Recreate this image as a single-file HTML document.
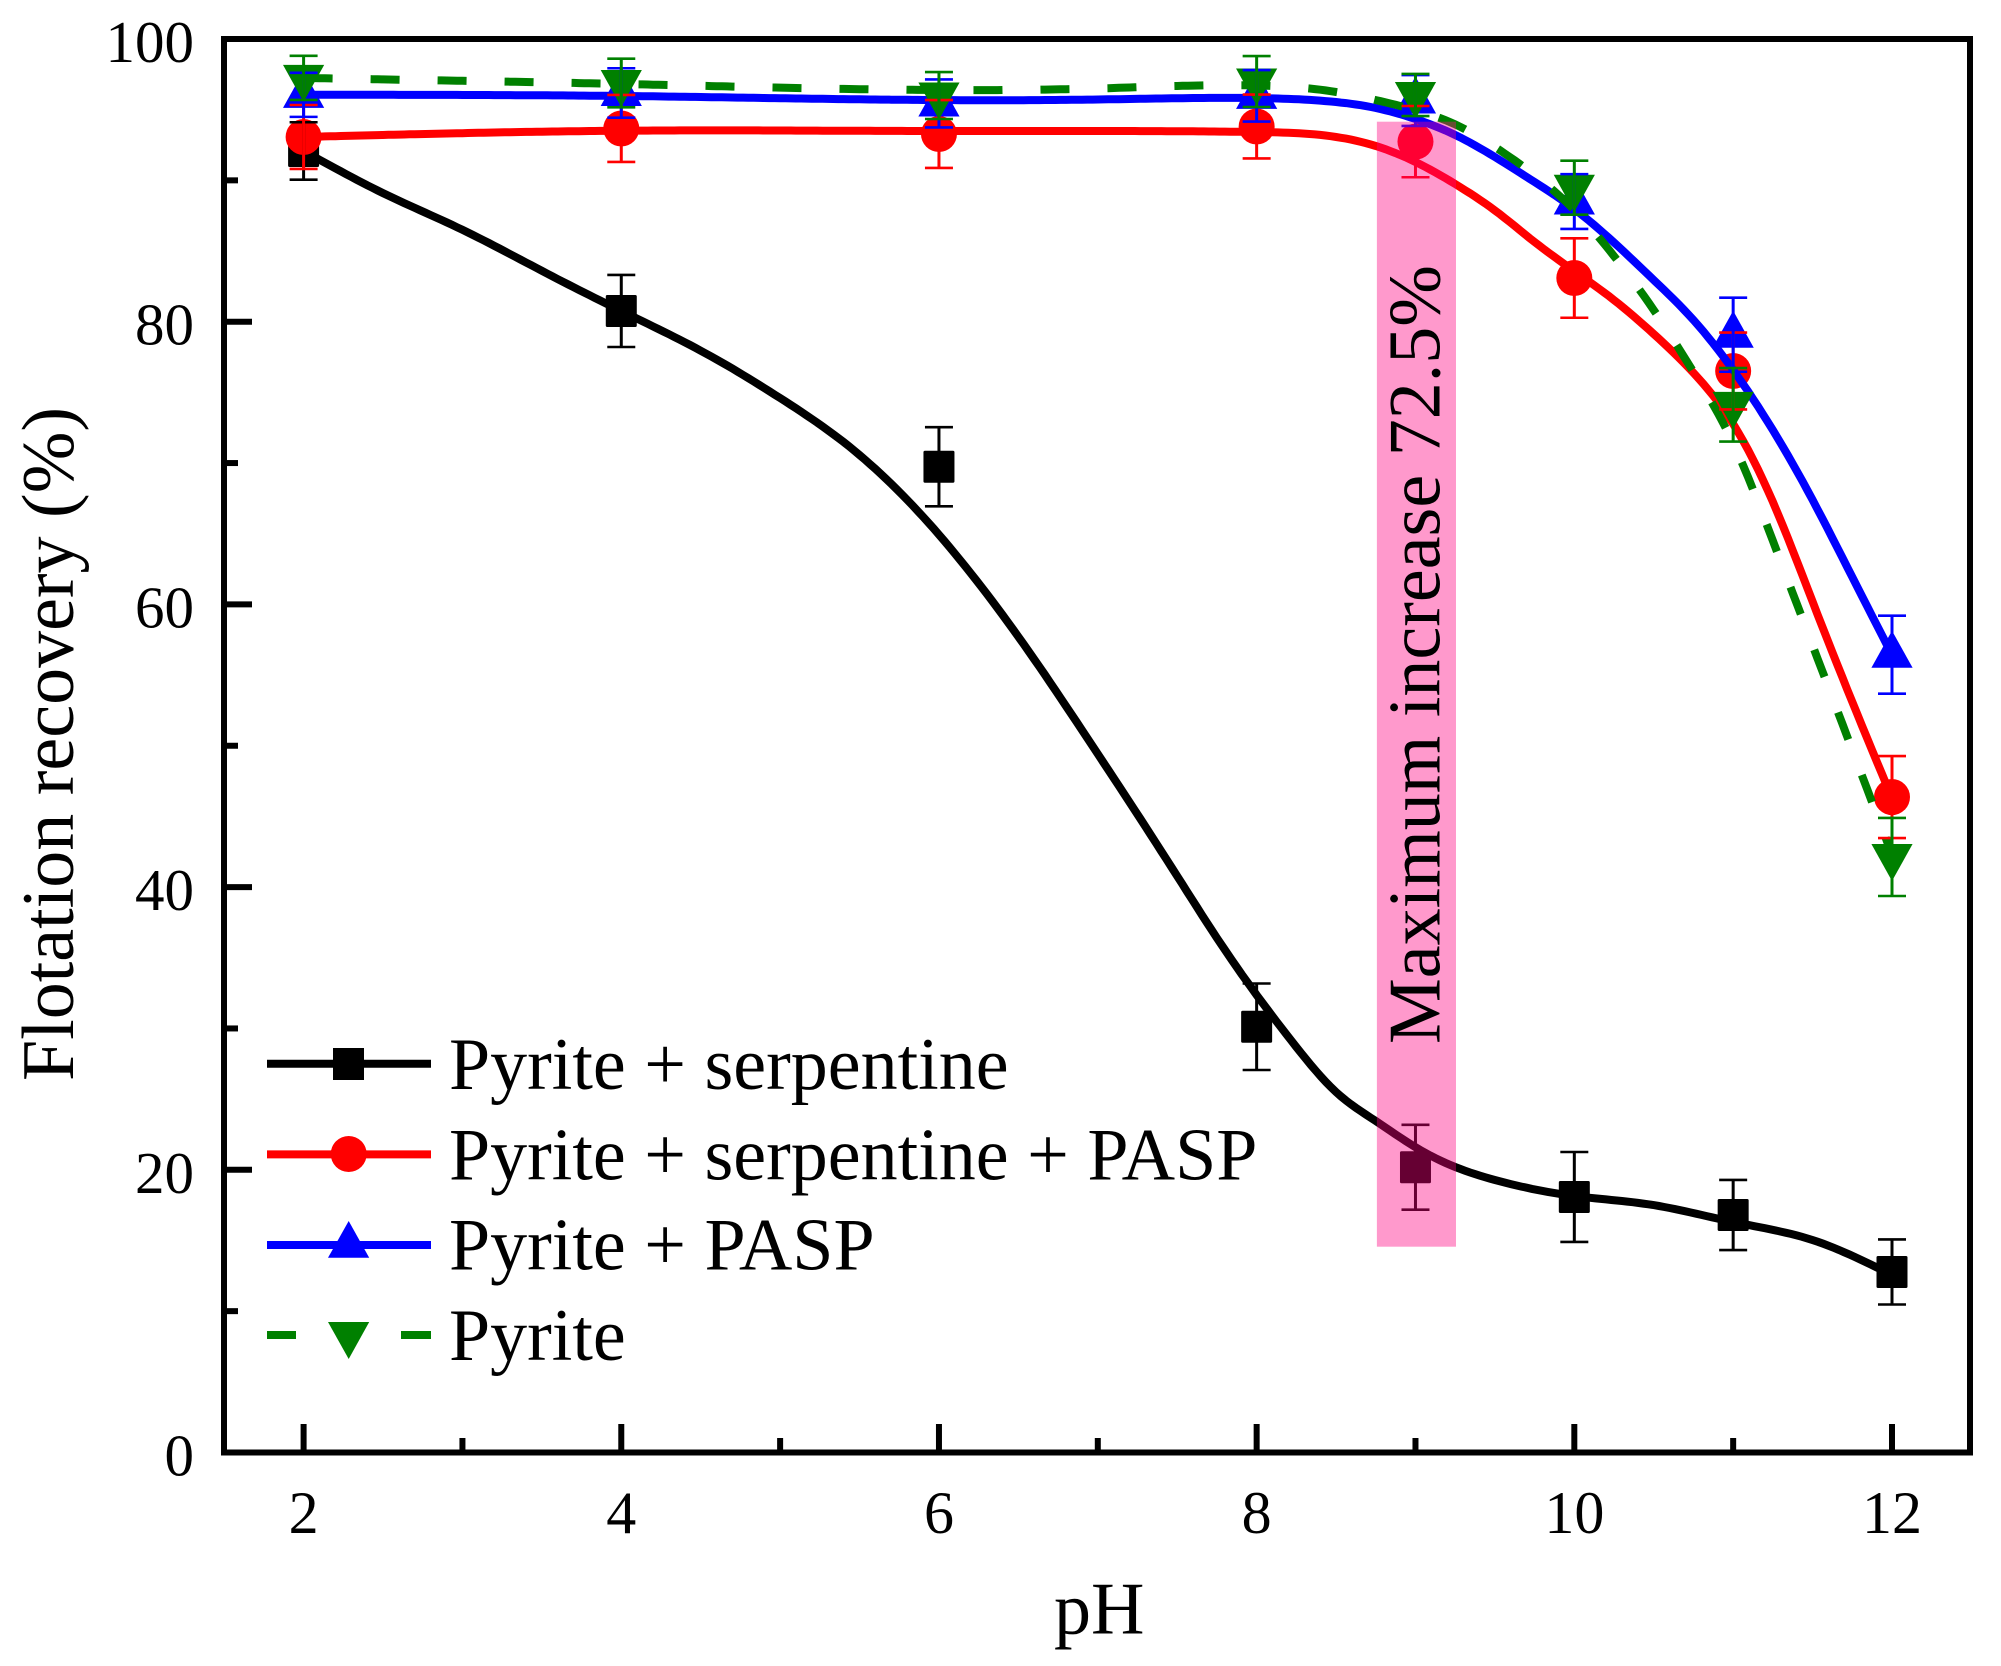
<!DOCTYPE html>
<html lang="en">
<head>
<meta charset="utf-8">
<title>Flotation recovery vs pH</title>
<style>
html,body{margin:0;padding:0;background:#fff;}
svg{display:block;}
text{font-family:"Liberation Serif",serif;fill:#000;}
</style>
</head>
<body>
<svg id="chart" xmlns="http://www.w3.org/2000/svg" width="2001" height="1666" viewBox="0 0 2001 1666">
  <rect x="0" y="0" width="2001" height="1666" fill="#fff"/>
  <g id="axes"></g>
  <g id="series"></g>
  <g id="errors"></g>
  <rect id="highlight" fill="#FF0080" fill-opacity="0.4"></rect>
  <text font-size="74" transform="translate(1439.5,1044) rotate(-90)">Maximum increase 72.5%</text>
  <text font-size="74" transform="translate(73,1081) rotate(-90)">Flotation recovery (%)</text>
  <text font-size="74" x="1054" y="1633.5">pH</text>
  <g>
    <g>
      <line x1="267" x2="431" y1="1063.7" y2="1063.7" stroke="#000" stroke-width="8"/>
      <rect x="333" y="1048" width="31" height="32" fill="#000"/>
      <text font-size="74" x="449" y="1089">Pyrite + serpentine</text>
    </g>
    <g>
      <line x1="267" x2="431" y1="1154.4" y2="1154.4" stroke="#f00" stroke-width="8"/>
      <circle cx="348.7" cy="1154" r="18" fill="#f00"/>
      <text font-size="74" x="449" y="1179.5">Pyrite + serpentine + PASP</text>
    </g>
    <g>
      <line x1="267" x2="431" y1="1245" y2="1245" stroke="#00f" stroke-width="8"/>
      <polygon points="348.7,1221 369.2,1257.7 328,1257.7" fill="#00f"/>
      <text font-size="74" x="449" y="1269.5">Pyrite + PASP</text>
    </g>
    <g>
      <line x1="267" x2="296" y1="1335" y2="1335" stroke="#008000" stroke-width="8"/>
      <line x1="401" x2="431" y1="1335" y2="1335" stroke="#008000" stroke-width="8"/>
      <polygon points="328,1322 369.2,1322 348.7,1359" fill="#008000"/>
      <text font-size="74" x="449" y="1360">Pyrite</text>
    </g>
  </g>
</svg>
<script>
// Point data (pH, recovery %, error)
const phValues = [2, 4, 6, 8, 9, 10, 11, 12];
const serpentineValues = [92.08, 80.76, 69.74, 30.12, 20.18, 18.08, 16.8, 12.77];
const serpentineErrors = [2.03, 2.55, 2.8, 3.06, 3.0, 3.18, 2.48, 2.3];
const serpentinePaspValues = [93.07, 93.67, 93.28, 93.81, 92.74, 83.09, 76.51, 46.37];
const serpentinePaspErrors = [2.26, 2.37, 2.4, 2.26, 2.52, 2.81, 2.72, 2.9];
const paspValues = [96.05, 96.18, 95.44, 95.98, 95.65, 88.5, 79.08, 56.44];
const paspErrors = [1.56, 1.75, 1.7, 1.82, 1.8, 1.94, 2.62, 2.76];
const pyriteValues = [97.25, 96.89, 96.0, 96.99, 96.04, 89.48, 74.12, 42.13];
const pyriteErrors = [1.56, 1.72, 1.66, 1.8, 1.49, 1.91, 2.6, 2.76];

// Fitted curves: knots
const serpentineCurveX = [2, 2.5, 3, 3.5, 4, 4.5, 5, 5.5, 6, 6.5, 7, 7.5, 7.75, 8, 8.25, 8.5, 8.75, 9, 9.25, 9.5, 10, 10.5, 11, 11.5, 12];
const serpentineCurveY = [92.08, 89.1, 86.5, 83.6, 80.76, 77.95, 74.6, 70.57, 64.93, 57.71, 49.42, 40.78, 36.4, 32.37, 28.69, 25.5, 23.45, 21.6, 20.2, 19.28, 18.15, 17.5, 16.31, 15.03, 12.56];
const serpentinePaspCurveX = [2, 4, 6, 8, 8.5, 8.75, 9, 9.25, 9.5, 9.75, 10, 10.25, 10.5, 10.75, 11, 11.25, 11.5, 11.75, 12];
const serpentinePaspCurveY = [93.07, 93.51, 93.49, 93.42, 93.07, 92.43, 91.3, 89.74, 87.87, 85.64, 83.58, 81.53, 79.13, 76.38, 72.76, 67.25, 60.2, 53.1, 46.3];
const paspCurveX = [2, 4, 6, 7, 8, 8.5, 8.75, 9, 9.25, 9.5, 9.75, 10, 10.25, 10.5, 10.75, 11, 11.25, 11.5, 11.75, 12];
const paspCurveY = [96.05, 95.97, 95.68, 95.72, 95.82, 95.54, 95.12, 94.34, 93.21, 91.65, 89.88, 87.97, 85.6, 82.95, 80.12, 76.58, 72.33, 67.39, 61.93, 56.44];
const pyriteCurveX = [2, 3, 4, 6, 7, 8, 8.5, 8.75, 9, 9.25, 9.5, 9.75, 10, 10.25, 10.5, 10.75, 11, 11.25, 11.5, 11.75, 12];
const pyriteCurveY = [97.25, 97.04, 96.82, 96.39, 96.5, 96.71, 96.25, 95.68, 94.97, 93.96, 92.36, 90.37, 87.9, 84.64, 80.83, 76.44, 71.41, 64.5, 57.1, 49.7, 42.3];

// Axis ticks
const xMajorTicks = [2, 4, 6, 8, 10, 12];
const xMinorTicks = [3, 5, 7, 9, 11];
const xTickLabels = ["2", "4", "6", "8", "10", "12"];
const yMajorTicks = [0, 20, 40, 60, 80, 100];
const yMinorTicks = [10, 30, 50, 70, 90];
const yTickLabels = ["0", "20", "40", "60", "80", "100"];

// Highlight band extent in data units
const bandPh = [8.757, 9.255];
const bandRecovery = [14.56, 94.15];

const NS = 'http://www.w3.org/2000/svg';
function xScale(x) { return 303.6 + (x - 2) * 158.84; }
function yScale(v) { return 1452.5 - v * 14.135; }
function make(tag, attrs, parent) {
  const el = document.createElementNS(NS, tag);
  for (const k in attrs) el.setAttribute(k, attrs[k]);
  parent.appendChild(el);
  return el;
}
// Natural cubic spline through the knots, traced in fine pH steps
function splinePath(xs, ys) {
  const n = xs.length;
  const h = [], alpha = [0], l = [1], mu = [0], z = [0], c = new Array(n).fill(0);
  for (let i = 0; i < n - 1; i++) h[i] = xs[i + 1] - xs[i];
  for (let i = 1; i < n - 1; i++) {
    alpha[i] = 3 * (ys[i + 1] - ys[i]) / h[i] - 3 * (ys[i] - ys[i - 1]) / h[i - 1];
    l[i] = 2 * (xs[i + 1] - xs[i - 1]) - h[i - 1] * mu[i - 1];
    mu[i] = h[i] / l[i];
    z[i] = (alpha[i] - h[i - 1] * z[i - 1]) / l[i];
  }
  for (let j = n - 2; j >= 0; j--) c[j] = j === 0 ? 0 : z[j] - mu[j] * c[j + 1];
  let d = 'M' + xScale(xs[0]).toFixed(1) + ' ' + yScale(ys[0]).toFixed(1);
  for (let j = 0; j < n - 1; j++) {
    const b = (ys[j + 1] - ys[j]) / h[j] - h[j] * (c[j + 1] + 2 * c[j]) / 3;
    const dd = (c[j + 1] - c[j]) / (3 * h[j]);
    const steps = Math.max(4, Math.round(h[j] * 30));
    for (let s = 1; s <= steps; s++) {
      const t = h[j] * s / steps;
      const v = ys[j] + b * t + c[j] * t * t + dd * t * t * t;
      d += 'L' + xScale(xs[j] + t).toFixed(1) + ' ' + yScale(v).toFixed(1);
    }
  }
  return d;
}

const axes = document.getElementById('axes');
const seriesGroup = document.getElementById('series');
const errorsGroup = document.getElementById('errors');

// Plot frame
const frame = make('rect', { x: 224, y: 39, width: 1746, height: 1413.5, fill: 'none', stroke: '#000', 'stroke-width': 6 }, axes);



// X ticks
xMajorTicks.forEach(function (t, i) {
  const tick = make('line', { x1: xScale(t), x2: xScale(t), y1: 1452.5, y2: 1424, stroke: '#000', 'stroke-width': 6 }, axes);
  
  
  const label = make('text', { x: xScale(t), y: 1533, 'font-size': 60, 'text-anchor': 'middle' }, axes);
  label.textContent = xTickLabels[i];
  
  
});
xMinorTicks.forEach(function (t) {
  const tick = make('line', { x1: xScale(t), x2: xScale(t), y1: 1452.5, y2: 1438, stroke: '#000', 'stroke-width': 6 }, axes);
  
  
});

// Y ticks
yMajorTicks.forEach(function (t, i) {
  const tick = make('line', { x1: 224, x2: 252, y1: yScale(t), y2: yScale(t), stroke: '#000', 'stroke-width': 6 }, axes);
  
  
  const label = make('text', { x: 194, y: yScale(t) + 23, 'font-size': 59, 'text-anchor': 'end' }, axes);
  label.textContent = yTickLabels[i];
  
  
});
yMinorTicks.forEach(function (t) {
  const tick = make('line', { x1: 224, x2: 238, y1: yScale(t), y2: yScale(t), stroke: '#000', 'stroke-width': 6 }, axes);
  
  
});

function drawMarker(kind, cx, cy, color, parent) {
  if (kind === 'square') return make('rect', { x: cx - 15.5, y: cy - 16, width: 31, height: 32, rx: 1.5, fill: color }, parent);
  if (kind === 'circle') return make('circle', { cx: cx, cy: cy, r: 18, fill: color }, parent);
  if (kind === 'up') return make('polygon', { points: cx + ',' + (cy - 24) + ' ' + (cx + 20.6) + ',' + (cy + 13) + ' ' + (cx - 20.6) + ',' + (cy + 13), fill: color }, parent);
  return make('polygon', { points: (cx - 20.6) + ',' + (cy - 13) + ' ' + (cx + 20.6) + ',' + (cy - 13) + ' ' + cx + ',' + (cy + 24), fill: color }, parent);
}

function drawSeries(name, kind, color, dash, curveX, curveY, values) {
  const line = make('path', { d: splinePath(curveX, curveY), fill: 'none', stroke: color, 'stroke-width': 8 }, seriesGroup);
  if (dash) line.setAttribute('stroke-dasharray', dash);
  
  
  phValues.forEach(function (ph, i) {
    const m = drawMarker(kind, xScale(ph), yScale(values[i]), color, seriesGroup);
    
    
  });
}

function drawErrors(name, color, values, errs) {
  phValues.forEach(function (ph, i) {
    const x = xScale(ph), top = yScale(values[i] + errs[i]), bottom = yScale(values[i] - errs[i]);
    const stem = make('line', { x1: x, x2: x, y1: top, y2: bottom, stroke: color, 'stroke-width': 3 }, errorsGroup);
    
    
    const capTop = make('line', { x1: x - 14, x2: x + 14, y1: top, y2: top, stroke: color, 'stroke-width': 2.6 }, errorsGroup);
    
    
    const capBottom = make('line', { x1: x - 14, x2: x + 14, y1: bottom, y2: bottom, stroke: color, 'stroke-width': 2.6 }, errorsGroup);
    
    
  });
}

drawSeries('pyrite-serpentine', 'square', '#000', null, serpentineCurveX, serpentineCurveY, serpentineValues);
drawSeries('pyrite-serpentine-pasp', 'circle', '#f00', null, serpentinePaspCurveX, serpentinePaspCurveY, serpentinePaspValues);
drawSeries('pyrite-pasp', 'up', '#00f', null, paspCurveX, paspCurveY, paspValues);
drawSeries('pyrite', 'down', '#008000', '29 38', pyriteCurveX, pyriteCurveY, pyriteValues);

drawErrors('pyrite-serpentine', '#000', serpentineValues, serpentineErrors);
drawErrors('pyrite-serpentine-pasp', '#f00', serpentinePaspValues, serpentinePaspErrors);
drawErrors('pyrite-pasp', '#00f', paspValues, paspErrors);
drawErrors('pyrite', '#008000', pyriteValues, pyriteErrors);

const band = document.getElementById('highlight');
band.setAttribute('x', xScale(bandPh[0]));
band.setAttribute('width', xScale(bandPh[1]) - xScale(bandPh[0]));
band.setAttribute('y', yScale(bandRecovery[1]));
band.setAttribute('height', yScale(bandRecovery[0]) - yScale(bandRecovery[1]));
</script>
</body>
</html>
